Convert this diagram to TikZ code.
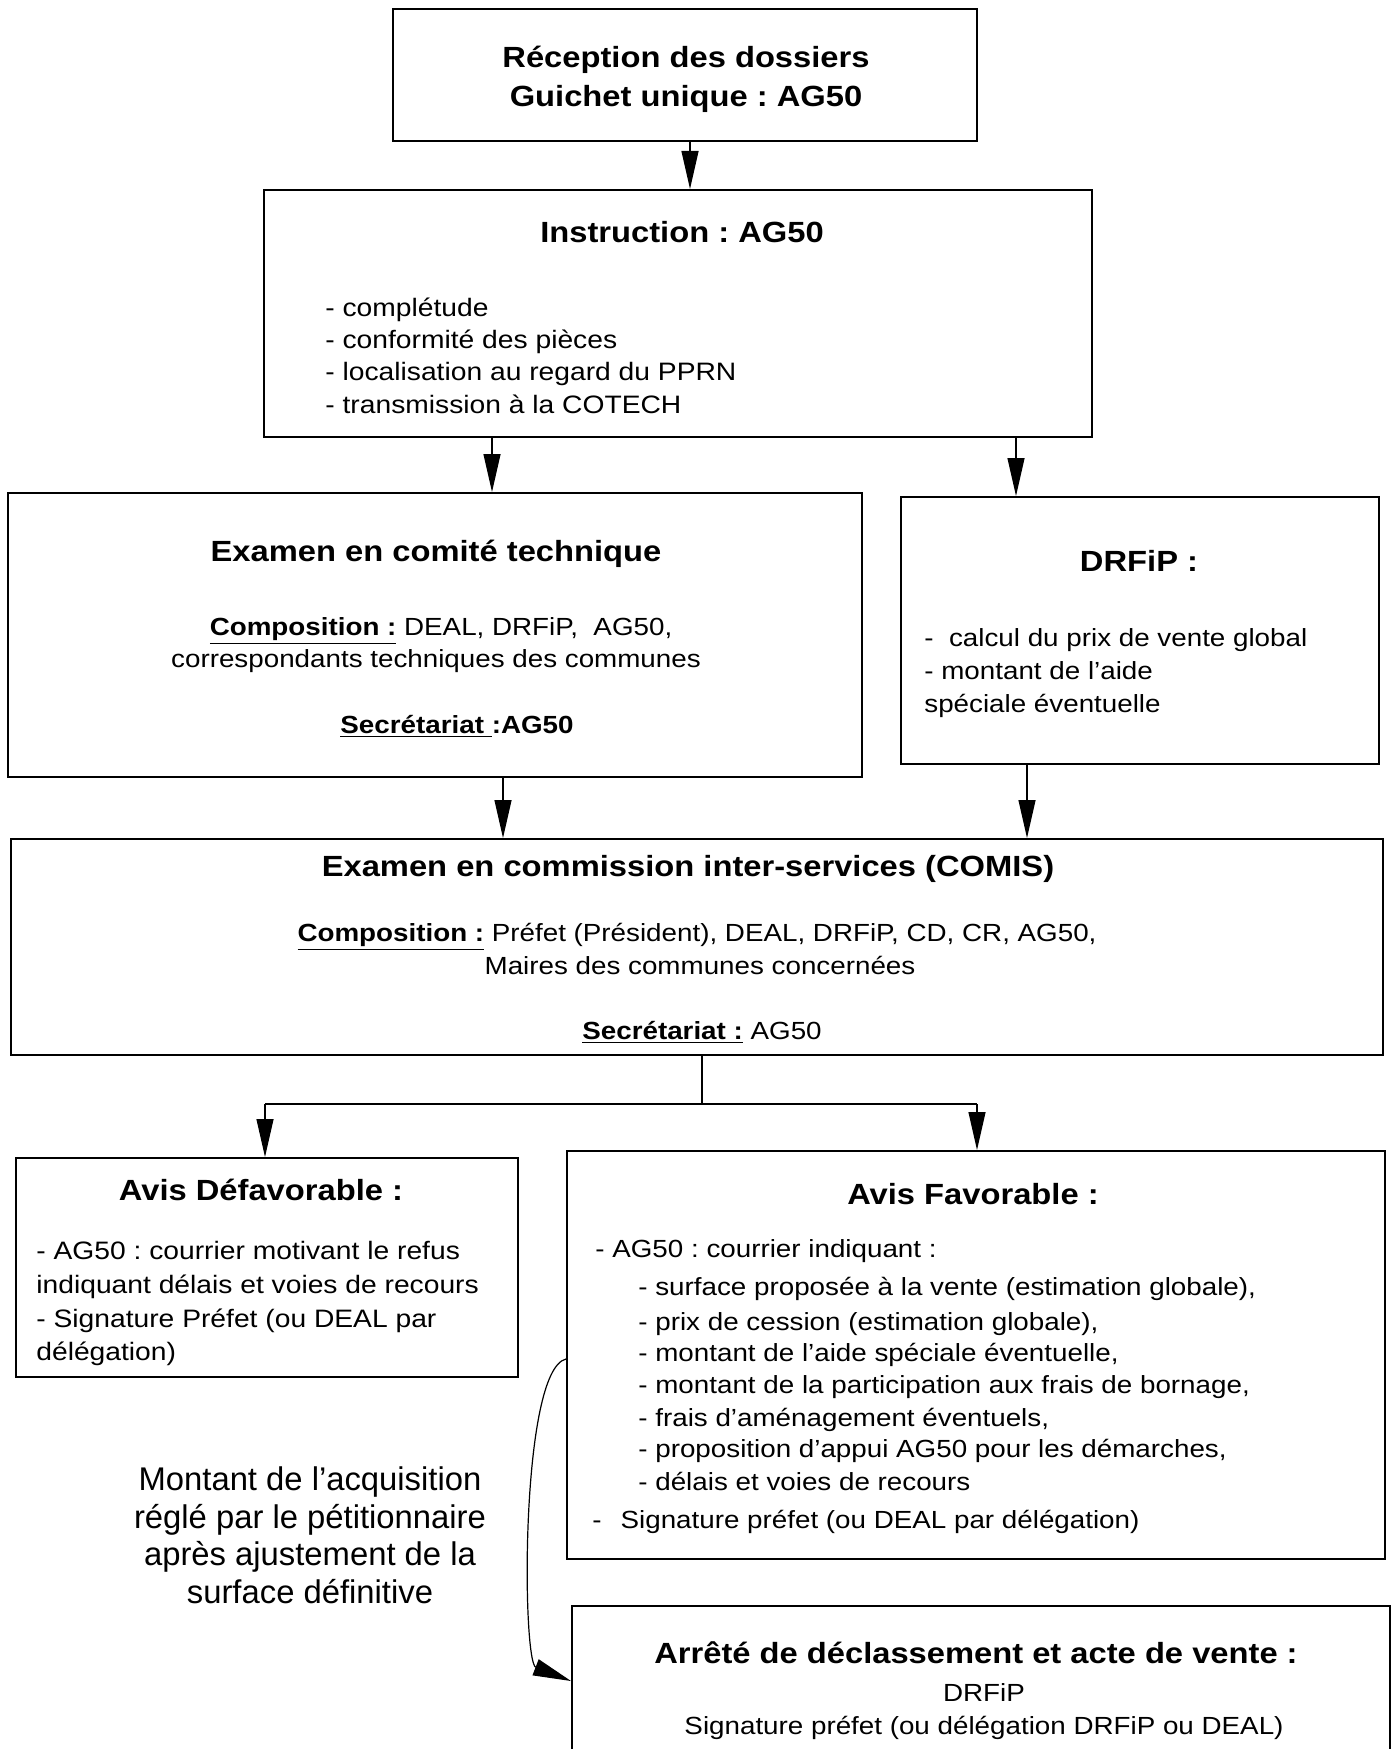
\documentclass[tikz,border=0pt]{standalone}
\usepackage{fontspec}
\setmainfont{Liberation Sans}
\newfontfamily\bx[FakeStretch=1.12]{Liberation Sans}
\usetikzlibrary{arrows.meta,fit}
\frenchspacing
\tikzset{
  box/.style={draw, line width=1pt, inner sep=0pt},
  arr/.style={-{Triangle[length=19pt,width=8.5pt]}, line width=0.6pt},
  link/.style={line width=0.6pt},
  hd/.style={font=\bx\bfseries\fontsize{14.6}{17}\selectfont, inner sep=0pt, anchor=mid},
  bd/.style={font=\bx\fontsize{12.6}{15}\selectfont, inner sep=0pt, anchor=mid west},
  bds/.style={font=\bx\fontsize{12.4}{15}\selectfont, inner sep=0pt, anchor=mid west},
  bdsc/.style={font=\bx\fontsize{12.4}{15}\selectfont, inner sep=0pt, anchor=mid},
  free/.style={font=\fontsize{16.4}{19}\selectfont, inner sep=0pt, anchor=mid}
}
\begin{document}
\begin{tikzpicture}[x=0.5pt,y=-0.5pt]
\useasboundingbox (0,0) rectangle (1391,1749);
\clip (0,0) rectangle (1391,1749);
\fill[white] (0,0) rectangle (1391,1749);

% boxes
\node[box, fit={(393,9) (977,141)}] (b1) {};
\node[box, fit={(264,190) (1092,437)}] (b2) {};
\node[box, fit={(8,493) (862,777)}] (b3) {};
\node[box, fit={(901,497) (1379,764)}] (b4) {};
\node[box, fit={(11,839) (1383,1055)}] (b5) {};
\node[box, fit={(16,1158) (518,1377)}] (b6) {};
\node[box, fit={(567,1151) (1385,1559)}] (b7) {};
\node[box, fit={(572,1606) (1390,1800)}] (b8) {};

% box 1
\node[hd] (t1a) at (686,62) {Réception des dossiers};
\node[hd] (t1b) at (686,101) {Guichet unique : AG50};

% box 2
\node[hd] (t2) at (682,237) {Instruction : AG50};
\node[bd] (t2a) at (325,311) {- complétude};
\node[bd] (t2b) at (325,343) {- conformité des pièces};
\node[bd] (t2c) at (325,375) {- localisation au regard du PPRN};
\node[bd] (t2d) at (325,408) {- transmission à la COTECH};

% box 3
\node[hd] (t3) at (436,556) {Examen en comité technique};
\node[bdsc] (t3a) at (441,630) {\textbf{\underline{Composition :}} DEAL, DRFiP,\ \ AG50,};
\node[bdsc] (t3b) at (436,662) {correspondants techniques des communes};
\node[bdsc] (t3c) at (457,728) {\textbf{\underline{Secrétariat }:AG50}};

% box 4
\node[hd] (t4) at (1139,566) {DRFiP :};
\node[bds] (t4a) at (924,641) {-\ \ calcul du prix de vente global};
\node[bds] (t4b) at (924,674) {- montant de l’aide};
\node[bds] (t4c) at (924,707) {spéciale éventuelle};

% box 5
\node[hd] (t5) at (688,871) {Examen en commission inter-services (COMIS)};
\node[bdsc] (t5a) at (697,936) {\textbf{\underline{Composition :}} Préfet (Président), DEAL, DRFiP, CD, CR, AG50,};
\node[bdsc] (t5b) at (700,969) {Maires des communes concernées};
\node[bdsc] (t5c) at (702,1034) {\textbf{\underline{Secrétariat :}} AG50};

% box 6
\node[hd] (t6) at (261,1195) {Avis Défavorable :};
\node[bd] (t6a) at (36,1254) {- AG50 : courrier motivant le refus};
\node[bd] (t6b) at (36,1288) {indiquant délais et voies de recours};
\node[bd] (t6c) at (36,1322) {- Signature Préfet (ou DEAL par};
\node[bd] (t6d) at (36,1355) {délégation)};

% box 7
\node[hd] (t7) at (973,1199) {Avis Favorable :};
\node[bds] (t7a) at (595,1252) {- AG50 : courrier indiquant :};
\node[bds] (t7b) at (638,1290) {- surface proposée à la vente (estimation globale),};
\node[bds] (t7c) at (638,1325) {- prix de cession (estimation globale),};
\node[bds] (t7d) at (638,1356) {- montant de l’aide spéciale éventuelle,};
\node[bds] (t7e) at (638,1388) {- montant de la participation aux frais de bornage,};
\node[bds] (t7f) at (638,1421) {- frais d’aménagement éventuels,};
\node[bds] (t7g) at (638,1452) {- proposition d’appui AG50 pour les démarches,};
\node[bds] (t7h) at (638,1485) {- délais et voies de recours};
\node[bds] (t7i) at (592,1523) {-\hspace{9.5pt}Signature préfet (ou DEAL par délégation)};

% box 8
\node[hd] (t8) at (976,1658) {Arrêté de déclassement et acte de vente :};
\node[bdsc] (t8a) at (984,1696) {DRFiP};
\node[bdsc] (t8b) at (984,1729) {Signature préfet (ou délégation DRFiP ou DEAL)};

% free text
\node[free] (f1) at (310,1485) {Montant de l’acquisition};
\node[free] (f2) at (310,1523) {réglé par le pétitionnaire};
\node[free] (f3) at (310,1560) {après ajustement de la};
\node[free] (f4) at (310,1598) {surface définitive};

% connectors
\coordinate (xa) at (690,0);
\coordinate (xb) at (492,0);
\coordinate (xc) at (1016,0);
\coordinate (xd) at (503,0);
\coordinate (xe) at (1027,0);
\coordinate (xf) at (702,0);
\coordinate (jl) at (265,1104);
\coordinate (jr) at (977,1104);
\coordinate (ys) at (0,1359);
\coordinate (ye) at (0,1681);

\draw[arr] (xa |- b1.south) -- (xa |- b2.north);
\draw[arr] (xb |- b2.south) -- (xb |- b3.north);
\draw[arr] (xc |- b2.south) -- (xc |- b4.north);
\draw[arr] (xd |- b3.south) -- (xd |- b5.north);
\draw[arr] (xe |- b4.south) -- (xe |- b5.north);
\draw[link] (xf |- b5.south) -- (xf |- jl);
\draw[link] (jl) -- (jr);
\draw[arr] (jl) -- (jl |- b6.north);
\draw[arr] (jr) -- (jr |- b7.north);
\draw[arr] (b7.west |- ys) .. controls (520,1370) and (522,1662) .. (b8.west |- ye);
\end{tikzpicture}
\end{document}
